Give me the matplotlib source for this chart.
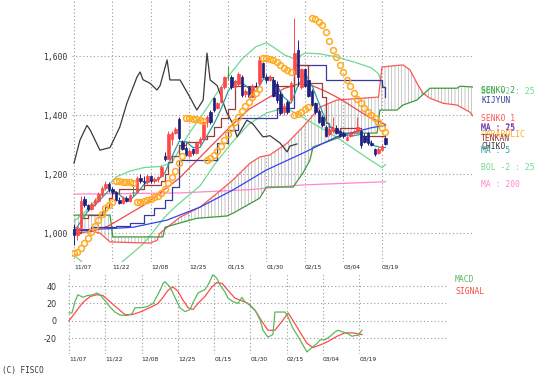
import matplotlib
matplotlib.use('Agg')
import matplotlib.pyplot as plt
import matplotlib.transforms as mtrans
from matplotlib.patches import Polygon

##########################
# DATA                   #
##########################

dates = ['11/07', '11/22', '12/08', '12/25', '01/15', '01/30', '02/15', '03/04', '03/19']
date_pos = [0, 11, 22, 33, 44, 55, 66, 77, 88]
price_ticks = [1000, 1200, 1400, 1600]
macd_ticks = [-20, 0, 20, 40]

opens = [1015, 995, 1020, 1115, 1095, 1082, 1098, 1110, 1130, 1152,
         1168, 1148, 1138, 1112, 1102, 1118, 1110, 1140, 1140, 1188,
         1178, 1172, 1192, 1175, 1183, 1195, 1262, 1252, 1320, 1340,
         1385, 1310, 1290, 1262, 1285, 1272, 1305, 1320, 1375, 1412,
         1458, 1425, 1445, 1495, 1535, 1530, 1495, 1505, 1530, 1470,
         1495, 1462, 1500, 1510, 1575, 1530, 1520, 1520, 1505, 1470,
         1410, 1445, 1450, 1540, 1620, 1495, 1555, 1518, 1480, 1440,
         1415, 1395, 1360, 1335, 1345, 1355, 1345, 1340, 1315, 1330,
         1338, 1345, 1345, 1330, 1338, 1305, 1285, 1270, 1283, 1322]
highs = [1030, 1025, 1125, 1125, 1100, 1105, 1118, 1140, 1160, 1175,
         1172, 1155, 1142, 1122, 1125, 1124, 1132, 1165, 1195, 1200,
         1195, 1200, 1196, 1190, 1195, 1230, 1275, 1345, 1345, 1358,
         1392, 1315, 1295, 1285, 1290, 1312, 1325, 1382, 1400, 1418,
         1462, 1445, 1500, 1532, 1565, 1535, 1520, 1545, 1535, 1490,
         1500, 1505, 1512, 1600, 1580, 1540, 1535, 1525, 1515, 1480,
         1440, 1452, 1515, 1730, 1655, 1560, 1560, 1522, 1490, 1445,
         1420, 1400, 1365, 1360, 1392, 1365, 1350, 1345, 1328, 1345,
         1350, 1395, 1350, 1340, 1342, 1315, 1290, 1292, 1302, 1328]
lows = [960, 975, 1015, 1090, 1075, 1078, 1092, 1105, 1125, 1145,
        1140, 1130, 1108, 1098, 1100, 1106, 1105, 1125, 1138, 1170,
        1165, 1168, 1170, 1170, 1172, 1190, 1245, 1250, 1300, 1335,
        1315, 1280, 1260, 1258, 1265, 1268, 1300, 1318, 1360, 1370,
        1412, 1420, 1440, 1488, 1520, 1490, 1490, 1500, 1460, 1460,
        1455, 1458, 1488, 1505, 1525, 1510, 1515, 1460, 1440, 1400,
        1400, 1405, 1445, 1530, 1500, 1490, 1495, 1460, 1430, 1405,
        1372, 1360, 1325, 1330, 1340, 1335, 1325, 1322, 1312, 1325,
        1335, 1340, 1290, 1305, 1300, 1295, 1262, 1268, 1280, 1298]
closes = [995, 1015, 1110, 1095, 1082, 1098, 1112, 1132, 1152, 1168,
          1148, 1138, 1112, 1102, 1118, 1110, 1128, 1140, 1188, 1178,
          1172, 1192, 1175, 1183, 1190, 1225, 1250, 1335, 1340, 1352,
          1322, 1285, 1265, 1278, 1270, 1305, 1320, 1375, 1395, 1375,
          1418, 1440, 1495, 1528, 1535, 1495, 1515, 1538, 1468, 1482,
          1462, 1500, 1495, 1588, 1532, 1520, 1528, 1465, 1450, 1408,
          1430, 1410, 1510, 1610, 1530, 1555, 1500, 1465, 1435, 1410,
          1378, 1365, 1330, 1352, 1356, 1340, 1330, 1328, 1324, 1338,
          1345, 1360, 1298, 1310, 1305, 1300, 1268, 1285, 1296, 1302]

parabolic = [932, 935, 950, 965, 985, 1005, 1025, 1045, 1065, 1085, 1095, 1105,
             1175, 1175, 1174, 1173, 1172, 1170,
             1105, 1107, 1110, 1113, 1117, 1122, 1125, 1135, 1150, 1170, 1190, 1210, 1237, 1260,
             1390, 1390, 1388, 1386, 1384, 1380,
             1247, 1255, 1265, 1278, 1295, 1315, 1335, 1355, 1375, 1395, 1415, 1430, 1445, 1460,
             1475, 1490,
             1593, 1592, 1590, 1587, 1580, 1570, 1560, 1552, 1545,
             1400, 1405, 1412, 1420, 1427,
             1730, 1726, 1716, 1705,
             1681, 1650, 1620, 1597, 1570, 1546, 1519, 1497, 1475, 1455, 1440, 1424,
             1410, 1400, 1390, 1375, 1356, 1343]

ma5_x = [0, 2, 4, 6, 8, 10, 12, 14, 16, 18, 20, 22, 24, 26, 28, 30, 32, 34, 36, 38, 40, 42,
         44, 46, 48, 50, 52, 54, 56, 58, 60, 62, 64, 66, 68, 70, 72, 74, 76, 78, 80, 82,
         84, 86, 88, 89]
ma5_y = [1005, 1040, 1075, 1095, 1120, 1145, 1140, 1120, 1112, 1135, 1165, 1180, 1180,
         1205, 1260, 1310, 1310, 1290, 1290, 1330, 1370, 1420, 1480, 1515, 1510, 1490,
         1480, 1520, 1530, 1500, 1460, 1440, 1500, 1540, 1500, 1440, 1380, 1350, 1345,
         1330, 1330, 1335, 1315, 1295, 1290, 1290]

ma25_x = [0, 5, 10, 15, 20, 25, 30, 35, 40, 45, 50, 55, 60, 64, 68, 72, 76, 80, 84, 89]
ma25_y = [1000, 1005, 1025, 1060, 1095, 1140, 1185, 1245, 1305, 1365, 1420, 1455, 1490,
          1505, 1500, 1480, 1455, 1425, 1395, 1368]

ma75_x = [0, 10, 17, 26.6, 36, 45.4, 55, 65.4, 75, 84.6, 89]
ma75_y = [1010, 1015, 1020, 1044, 1088, 1146, 1214, 1271, 1326, 1356, 1366]

ma200_x = [0, 30, 50, 65, 89]
ma200_y = [1132, 1136, 1147, 1163, 1174]

bol_up_x = [0, 3, 6, 9, 12, 16, 20, 25, 28, 30, 33, 36, 40, 44, 48, 52, 55, 57, 60, 63,
            66, 70, 75, 80, 85, 87, 88, 89]
bol_up_y = [1040, 1070, 1110, 1150, 1190, 1210, 1222, 1226, 1240, 1280, 1340, 1390, 1460,
            1530, 1590, 1632, 1645, 1630, 1605, 1590, 1610, 1608, 1597, 1580, 1560, 1540,
            1505, 1490]

bol_lo_x = [0, 2, 4, 8, 12, 14, 17, 20, 23, 26, 29, 32, 36, 40, 45, 50, 55, 58, 62, 65,
            70, 75, 80, 85, 88, 89]
bol_lo_y = [925, 905, 880, 860, 880, 905, 935, 966, 1010, 1055, 1090, 1120, 1160, 1230,
            1305, 1370, 1407, 1417, 1415, 1395, 1360, 1325, 1285, 1245, 1222, 1232]

kijun_x = [0, 5, 12, 16, 20, 23, 26, 28, 30, 41, 44, 47, 58, 63, 72, 88, 89]
kijun_y = [1010, 1020, 1025, 1035, 1060, 1085, 1112, 1156, 1247, 1305, 1350, 1390, 1424,
           1570, 1519, 1495, 1461]

tenkan_x = [0, 2, 4, 8, 9, 10, 11, 13, 18, 20, 25, 26, 27, 28, 30, 32, 36, 38, 40, 42, 44,
            46, 53, 57, 63, 67, 71, 72, 73, 74, 76, 82, 89]
tenkan_y = [1000, 1050, 1060, 1070, 1090, 1120, 1135, 1148, 1150, 1163, 1175, 1200, 1240,
            1260, 1300, 1310, 1320, 1330, 1360, 1390, 1420, 1500, 1530, 1500, 1570, 1508,
            1461, 1373, 1360, 1345, 1356, 1330, 1330]

senko1_x = [0, 7.4, 10.3, 21.7, 23.7, 24.6, 30.3, 36, 40.9, 45.4, 50.3, 53.1, 56, 60.9,
            65.4, 70.3, 75.1, 87, 88, 94, 96, 98, 99.7, 101.7, 105.4, 109.4, 113.1, 114]
senko1_y = [1020, 1000, 970, 966, 975, 1000, 1054, 1088, 1135, 1180, 1237, 1258, 1265,
            1305, 1360, 1427, 1451, 1461, 1563, 1570, 1553, 1508, 1474, 1457, 1440, 1434,
            1410, 1397]

senko2_x = [0, 10.3, 11.1, 25.4, 26, 35, 43.7, 45.4, 53, 55, 62.6, 65.4, 67.4, 68.3, 76,
            76.9, 86.6, 87.4, 92.3, 94, 98, 101.7, 109.4, 110.3, 114]
senko2_y = [1061, 1061, 987, 987, 1020, 1050, 1058, 1067, 1118, 1156, 1156, 1203, 1247,
            1292, 1325, 1339, 1339, 1417, 1417, 1434, 1451, 1491, 1491, 1498, 1495]

chiko_x = [0, 1.7, 3.7, 4.6, 7.4, 10.3, 13.1, 15.1, 18, 18.9, 19.7, 21.7, 23.7, 24.6, 26.6,
           27.4, 30.3, 33.1, 35.1, 36.9, 38, 38.9, 40.9, 43.7, 45.4, 46.6, 49.4, 51.1, 54,
           56, 58.9, 60.9, 61.7, 63.7]
chiko_y = [1237, 1315, 1365, 1350, 1281, 1290, 1360, 1440, 1529, 1546, 1520, 1508, 1485,
           1500, 1587, 1519, 1519, 1461, 1417, 1451, 1610, 1519, 1500, 1407, 1370, 1326,
           1383, 1370, 1326, 1330, 1305, 1275, 1295, 1302]

macd_x = [0, 0.9, 1.8, 2.7, 4.2, 5.5, 7.3, 8.5, 9.4, 10.3, 12.4, 13.9, 15.5, 17.6, 19.1,
          20, 21.5, 23.6, 25.5, 27.6, 28.5, 29.1, 30.6, 32.1, 33.6, 35.2, 36.7, 37.6, 39.1,
          41.2, 42.1, 43.6, 44.8, 45.8, 47.3, 48.2, 49.7, 51.2, 52.4, 53.3, 54.8, 56.4,
          57.9, 58.8, 60.3, 61.8, 62.4, 63.9, 65.5, 66.4, 67.9, 69.4, 70.9, 72.1, 73.6,
          75.2, 76.1, 77.6, 79.1, 80.6, 81.5, 83, 84.5, 85.8, 86.7, 87.6, 88.8]
macd_y = [9, 9, 22, 30, 27, 29, 30, 32, 30, 26, 16, 10, 6.5, 6, 8, 15, 15, 16, 20, 35, 43,
          45, 39, 27, 15, 10.5, 13, 21, 32, 36, 41, 53, 49, 41, 33, 26, 22, 20, 27, 22, 18,
          12, 1, -11, -19, -16, 10, 10, 10, 4, -9, -18, -28, -36, -31, -26, -22, -22, -18,
          -13, -11, -13, -15, -18, -17, -17, -11]

signal_x = [0, 2.4, 4.2, 6.4, 8.5, 10.3, 12.4, 14.5, 17, 19.1, 21.5, 24.5, 27, 28.5, 30,
            31.5, 33, 34.5, 36.1, 37.6, 39.1, 41.2, 43.3, 44.8, 46.4, 48.2, 50.3, 52.4,
            54.2, 56.4, 58.5, 60.3, 62.4, 64.5, 66.4, 67.9, 70, 72.1, 73.9, 76.1, 78.5,
            81.2, 83.6, 86.1, 88.8]
signal_y = [0, 12, 21, 28, 30, 29, 22, 15, 7, 7, 10, 15, 20, 27, 35, 39, 34, 24, 15, 13,
            20, 28, 39, 44, 43, 35, 26, 23, 20, 12, -1, -11, -11, -1, 9, 0, -13, -26, -31,
            -28, -24, -18, -14, -14, -16]

##########################
# STYLE                  #
##########################

W, H = 554, 387
UP, DOWN, DOJI = '#ff4848', '#1f1f80', '#3a9a3a'
C_MA5, C_MA25, C_MA75, C_MA200 = '#2f9c9c', '#f04848', '#3344ee', '#ff88cc'
C_BOL, C_SENKO1, C_SENKO2 = '#70d890', '#ff5555', '#3c9a3c'
C_KIJUN, C_TENKAN, C_CHIKO, C_SAR = '#3a3a9a', '#9a3a3a', '#3a3a3a', '#ffaa22'
GRID = dict(color='#999999', linestyle=(0, (1, 2.2)), linewidth=0.8)
MONO = 'DejaVu Sans Mono'

plt.rcParams['hatch.linewidth'] = 0.5

fig = plt.figure(figsize=(W / 100, H / 100), dpi=100)
ax = fig.add_axes([72 / W, (H - 262) / H, (473 - 72) / W, 262 / H])
axm = fig.add_axes([68 / W, (H - 354) / H, (447 - 68) / W, 80 / H])

for a in (ax, axm):
    for s in a.spines.values():
        s.set_visible(False)
    a.set_xticks(date_pos)
    a.set_xticklabels(dates, ha='left', fontsize=4.3, color='#222222')
    a.tick_params(axis='both', length=0)
    a.tick_params(axis='x', pad=1.5)
    a.grid(True, **GRID)
    a.set_axisbelow(True)

# ---- main price chart ----
ax.set_xlim(-0.57, 114)
ax.set_ylim(902, 1790)
ax.set_yticks(price_ticks)
ax.set_yticklabels(['{:,}'.format(v) for v in price_ticks], fontsize=5.8,
                   family=MONO, color='#333333')
ax.tick_params(axis='y', pad=3.6)

# ichimoku cloud, hatched
cloud = Polygon(list(zip(senko1_x, senko1_y)) + list(zip(senko2_x[::-1], senko2_y[::-1])),
                closed=True, fill=False, hatch='|||||', edgecolor='#b0b0b0', lw=0, zorder=1)
ax.add_patch(cloud)

lw = 0.9
ax.plot(ma200_x, ma200_y, color=C_MA200, lw=lw, zorder=2)
ax.plot(bol_up_x, bol_up_y, color=C_BOL, lw=lw, zorder=2)
ax.plot(bol_lo_x, bol_lo_y, color=C_BOL, lw=lw, zorder=2)
ax.plot(senko1_x, senko1_y, color=C_SENKO1, lw=lw, zorder=2)
ax.plot(senko2_x, senko2_y, color=C_SENKO2, lw=lw, zorder=2)
ax.plot(ma75_x, ma75_y, color=C_MA75, lw=lw, zorder=2)
ax.plot(ma25_x, ma25_y, color=C_MA25, lw=lw, zorder=2)
ax.plot(chiko_x, chiko_y, color=C_CHIKO, lw=lw, zorder=2)
ax.plot(kijun_x, kijun_y, color=C_KIJUN, lw=lw, drawstyle='steps-post', zorder=2)
ax.plot(tenkan_x, tenkan_y, color=C_TENKAN, lw=lw, drawstyle='steps-post', zorder=2)
ax.plot(ma5_x, ma5_y, color=C_MA5, lw=lw, zorder=2)

# candles
idx = list(range(len(closes)))
colors = [UP if c > o else (DOWN if c < o else DOJI) for o, c in zip(opens, closes)]
ax.vlines(idx, lows, highs, colors=colors, lw=0.7, zorder=3)
ax.bar(idx, [c - o for o, c in zip(opens, closes)], bottom=opens, width=0.62,
       color=colors, edgecolor=colors, lw=0.5, zorder=3)

# parabolic SAR
ax.plot(idx, parabolic, ls='none', marker='o', ms=4.2, mfc='none', mec=C_SAR,
        mew=1.1, zorder=4)

# labels at the last value of each series
lab = mtrans.offset_copy(ax.transData, fig=fig, x=0, y=-3, units='dots')
labels = [
    ('BOL +2 : 25', C_BOL, bol_up_y[-1]),
    ('SENKO 2', C_SENKO2, senko2_y[-1]),
    ('KIJYUN', C_KIJUN, kijun_y[-1]),
    ('SENKO 1', C_SENKO1, senko1_y[-1]),
    ('MA : 25', C_MA25, ma25_y[-1]),
    ('MA : 75', C_MA75, ma75_y[-1]),
    ('PARABOLIC', C_SAR, parabolic[-1]),
    ('TENKAN', C_TENKAN, tenkan_y[-1]),
    ('CHIKO', C_CHIKO, chiko_y[-1]),
    ('MA : 5', C_MA5, ma5_y[-1]),
    ('BOL -2 : 25', C_BOL, bol_lo_y[-1]),
    ('MA : 200', C_MA200, ma200_y[-1]),
]
for text, col, val in labels:
    ax.text(116.3, val, text, color=col, fontsize=5.8, family=MONO, va='center',
            ha='left', transform=lab, clip_on=False)

# ---- MACD panel ----
axm.set_xlim(-0.3, 114.55)
axm.set_ylim(-38.4, 53.9)
axm.set_yticks(macd_ticks)
axm.set_yticklabels([str(v) for v in macd_ticks], fontsize=5.8, color='#333333')
axm.tick_params(axis='y', pad=8)
axm.plot(signal_x, signal_y, color='#ff4a4a', lw=0.9)
axm.plot(macd_x, macd_y, color='#5cb85c', lw=0.9)

fig.text(455 / W, 1 - 280 / H, 'MACD', color='#5cb85c', fontsize=5.8, family=MONO,
         va='center')
fig.text(455 / W, 1 - 291 / H, 'SIGNAL', color='#ff4a4a', fontsize=5.8, family=MONO,
         va='center')
fig.text(2 / W, 1 - 371 / H, '(C) FISCO', color='#333333', fontsize=5.6, family=MONO,
         va='center')

fig.savefig('out.png', dpi=100)
